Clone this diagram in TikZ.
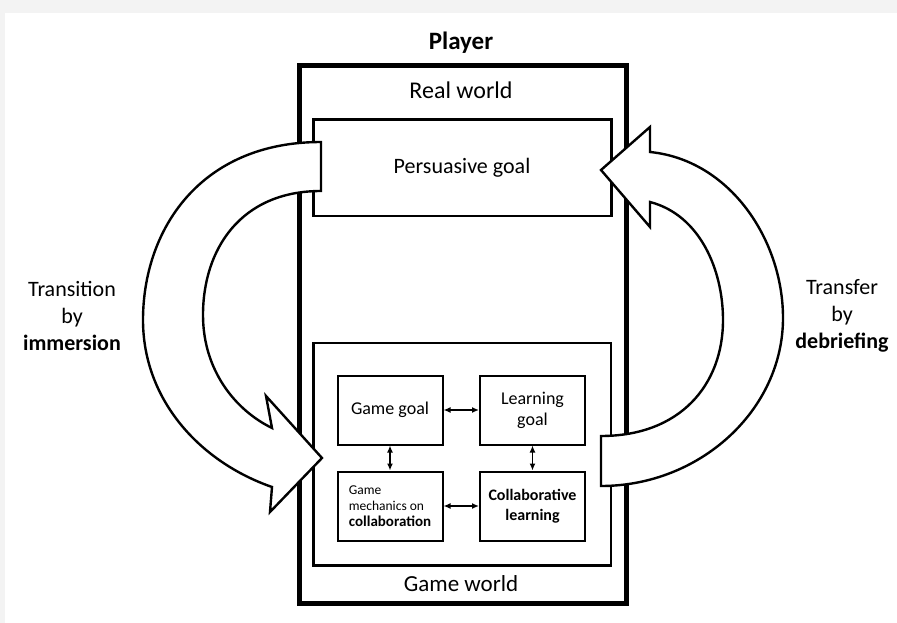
\documentclass[tikz,border=0pt]{standalone}
\usepackage{fontspec}
\setmainfont{Carlito}
\usetikzlibrary{arrows.meta}

\definecolor{pagegray}{HTML}{F3F3F3}

\tikzset{
  worldbox/.style={draw, line width=5pt, minimum width=326.5pt, minimum height=537.5pt, inner sep=0pt},
  areabox/.style={draw, line width=2.4pt, inner sep=0pt},
  smallbox/.style={draw, line width=2pt, minimum width=105pt, minimum height=69pt, inner sep=2pt, align=center},
  link/.style={line width=1.6pt, {Latex[length=7pt,width=6pt]}-{Latex[length=7pt,width=6pt]}},
  bigarrow/.style={draw, fill=white, line width=2.4pt, line join=miter},
  sidelabel/.style={align=center, font=\fontsize{22}{27}\selectfont},
}

\begin{document}
\begin{tikzpicture}[x=1pt,y=-1pt]
  % page background
  \fill[pagegray] (0,0) rectangle (897,623);
  \fill[white] (5,13) rectangle (897,623);
  \useasboundingbox (0,0) rectangle (897,623);

  % title
  \node[font=\fontsize{25}{29}\selectfont\bfseries] (player) at (461,43) {Player};

  % player frame and the two worlds
  \node[worldbox] (frame) at (462.75,334.25) {};
  \node[font=\fontsize{24}{28}\selectfont] (real) at (461,90) {Real world};
  \node[areabox, minimum width=298pt, minimum height=96.5pt] (persuasive) at (462.5,167.75) {};
  \node[font=\fontsize{22}{26}\selectfont] (ptext) at (462,168) {Persuasive goal};
  \node[areabox, minimum width=297.5pt, minimum height=222.5pt] (gameworld) at (462.25,454.25) {};
  \node[font=\fontsize{23}{27}\selectfont] (gwtext) at (461,584) {Game world};

  % game elements
  \node[smallbox, font=\fontsize{18}{20}\selectfont] (gg) at (390,410) {Game goal};
  \node[smallbox, font=\fontsize{18}{21}\selectfont] (lg) at (532.5,410) {Learning\\goal};
  \node[smallbox, align=left, font=\fontsize{13.5}{16}\selectfont] (gm) at (390,506)
    {Game\\mechanics on\\{\fontsize{15}{18}\selectfont\bfseries collaboration}};
  \node[smallbox, font=\fontsize{16}{20}\selectfont\bfseries] (cl) at (532.5,506) {Collaborative\\learning};

  \draw[link] (gg) -- (lg);
  \draw[link] (gm) -- (cl);
  \draw[link] (gg) -- (gm);
  \draw[link] (lg) -- (cl);

  % transition arrow (left)
  \path[bigarrow] (321,142)
    .. controls (200,142) and (143,230) .. (143,320)
    .. controls (143,400) and (200,462) .. (272,487)
    -- (270,512) -- (322,458) -- (266,396) -- (272,428)
    .. controls (235,410) and (203,370) .. (203,315)
    .. controls (203,250) and (240,191) .. (321,191) -- cycle;

  % transfer arrow (right)
  \path[bigarrow] (601,436)
    .. controls (680,436) and (723,385) .. (723,320)
    .. controls (723,270) and (700,215) .. (650,202)
    -- (650,227) -- (601,170) -- (650,127) -- (650,152)
    .. controls (730,160) and (783,240) .. (783,318)
    .. controls (783,410) and (700,486) .. (601,486) -- cycle;

  % side labels
  \node[sidelabel] (immersion) at (72,316) {Transition\\by\\\textbf{immersion}};
  \node[sidelabel] (debriefing) at (842,316) {Transfer\\by\\\textbf{debriefing}};
\end{tikzpicture}
\end{document}
